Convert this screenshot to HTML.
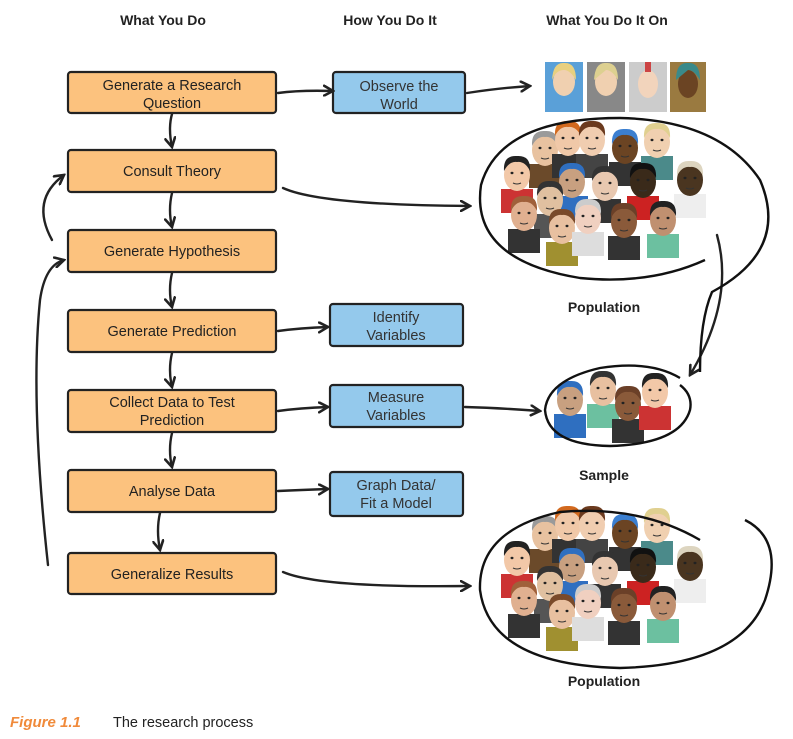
<!DOCTYPE html>
<html><head><meta charset="utf-8"><style>
html,body{margin:0;padding:0;background:#fff;width:793px;height:739px;overflow:hidden}
svg{display:block}
text{font-family:"Liberation Sans",sans-serif}
</style></head><body>
<svg width="793" height="739" viewBox="0 0 793 739" xmlns="http://www.w3.org/2000/svg">
<defs>
<marker id="ah" markerWidth="12" markerHeight="12" refX="10" refY="6" orient="auto" markerUnits="userSpaceOnUse">
<path d="M1,1 L10,6 L1,11" fill="none" stroke="#222" stroke-width="2.6" stroke-linecap="round"/>
</marker>
<g id="face">
<rect x="-16" y="14" width="32" height="24" fill="var(--s)"/>
<ellipse cx="0" cy="0" rx="13" ry="16" fill="var(--k)"/>
<path d="M-13,-4 Q-14,-20 0,-19 Q14,-20 13,-4 Q8,-14 0,-13 Q-8,-14 -13,-4Z" fill="var(--h)"/>
<ellipse cx="-5" cy="-2" rx="1.5" ry="1.2" fill="#222"/><ellipse cx="5" cy="-2" rx="1.5" ry="1.2" fill="#222"/>
<path d="M-4,8 Q0,10 4,8" stroke="#333" fill="none" stroke-width="1"/>
</g>
<g id="crowd">
<use href="#face" x="545" y="150" style="--k:#e8c2a0;--h:#9a9a9a;--s:#6b4a2a"/>
<use href="#face" x="568" y="140" style="--k:#f0c8a8;--h:#d2691e;--s:#333"/>
<use href="#face" x="592" y="140" style="--k:#f0cdb0;--h:#6b3a1e;--s:#444"/>
<use href="#face" x="625" y="148" style="--k:#6b4423;--h:#3b7fd0;--s:#333"/>
<use href="#face" x="657" y="142" style="--k:#f0d0b0;--h:#e0d090;--s:#4b8a8a"/>
<use href="#face" x="517" y="175" style="--k:#f2c8a8;--h:#222;--s:#c33"/>
<use href="#face" x="572" y="182" style="--k:#c8a080;--h:#2f6fc0;--s:#2f6fc0"/>
<use href="#face" x="605" y="185" style="--k:#e8c8b0;--h:#333;--s:#333"/>
<use href="#face" x="643" y="182" style="--k:#3a2a1a;--h:#111;--s:#c22"/>
<use href="#face" x="690" y="180" style="--k:#4a3520;--h:#ddd5c0;--s:#eee"/>
<use href="#face" x="550" y="200" style="--k:#e0c0a0;--h:#333;--s:#555"/>
<use href="#face" x="524" y="215" style="--k:#e0b090;--h:#a0603a;--s:#333"/>
<use href="#face" x="562" y="228" style="--k:#e8c0a0;--h:#7a4a2a;--s:#a09030"/>
<use href="#face" x="588" y="218" style="--k:#f0d0c0;--h:#ccc;--s:#ddd"/>
<use href="#face" x="624" y="222" style="--k:#8a5a3a;--h:#6b4028;--s:#333"/>
<use href="#face" x="663" y="220" style="--k:#c09070;--h:#222;--s:#6cc0a0"/>
</g>
</defs>

<text x="163" y="25" font-size="14" font-weight="bold" text-anchor="middle" fill="#222">What You Do</text>
<text x="390" y="25" font-size="14" font-weight="bold" text-anchor="middle" fill="#222">How You Do It</text>
<text x="607" y="25" font-size="14" font-weight="bold" text-anchor="middle" fill="#222">What You Do It On</text>

<g stroke="#222" stroke-width="2.2" fill="#fcc27e">
<rect x="68" y="72" width="208" height="41" rx="3"/>
<rect x="68" y="150" width="208" height="42" rx="3"/>
<rect x="68" y="230" width="208" height="42" rx="3"/>
<rect x="68" y="310" width="208" height="42" rx="3"/>
<rect x="68" y="390" width="208" height="42" rx="3"/>
<rect x="68" y="470" width="208" height="42" rx="3"/>
<rect x="68" y="553" width="208" height="41" rx="3"/>
</g>
<g stroke="#222" stroke-width="2.2" fill="#94c9ec">
<rect x="333" y="72" width="132" height="41" rx="3"/>
<rect x="330" y="304" width="133" height="42" rx="3"/>
<rect x="330" y="385" width="133" height="42" rx="3"/>
<rect x="330" y="472" width="133" height="44" rx="3"/>
</g>
<g font-size="14.5" fill="#222" text-anchor="middle">
<text x="172" y="90">Generate a Research</text><text x="172" y="108">Question</text>
<text x="172" y="176">Consult Theory</text>
<text x="172" y="256">Generate Hypothesis</text>
<text x="172" y="336">Generate Prediction</text>
<text x="172" y="407">Collect Data to Test</text><text x="172" y="425">Prediction</text>
<text x="172" y="496">Analyse Data</text>
<text x="172" y="579">Generalize Results</text>
</g>
<g font-size="14.5" fill="#333" text-anchor="middle">
<text x="399" y="91">Observe the</text><text x="399" y="109">World</text>
<text x="396" y="322">Identify</text><text x="396" y="340">Variables</text>
<text x="396" y="402">Measure</text><text x="396" y="420">Variables</text>
<text x="396" y="490">Graph Data/</text><text x="396" y="508">Fit a Model</text>
</g>

<g stroke="#222" stroke-width="2.4" fill="none" stroke-linecap="round" marker-end="url(#ah)">
<path d="M172,114 Q168,128 172,147"/>
<path d="M172,193 Q168,210 172,227"/>
<path d="M172,273 Q168,290 172,307"/>
<path d="M172,353 Q168,370 172,387"/>
<path d="M172,433 Q168,450 172,467"/>
<path d="M160,513 Q156,530 160,550"/>
<path d="M278,93 Q300,90 333,91"/>
<path d="M467,93 Q500,88 530,86"/>
<path d="M283,188 Q320,205 470,206"/>
<path d="M278,331 Q300,328 328,327"/>
<path d="M278,411 Q300,408 328,407"/>
<path d="M278,491 Q300,490 328,489"/>
<path d="M465,407 Q500,408 540,411"/>
<path d="M283,572 Q320,588 470,586"/>
<path d="M52,240 Q30,200 64,175"/>
<path d="M48,565 Q30,400 40,300 Q45,265 64,260"/>
<path d="M717,235 Q735,300 690,375"/>
</g>

<!-- top portraits -->
<g>
<rect x="545" y="62" width="38" height="50" fill="#5aa0d8"/><ellipse cx="564" cy="82" rx="11" ry="14" fill="#f0d0b0"/><path d="M552,80 Q553,62 564,63 Q576,62 576,80 Q570,70 564,70 Q556,70 552,80Z" fill="#e8d080"/>
<rect x="587" y="62" width="38" height="50" fill="#888"/><ellipse cx="606" cy="82" rx="11" ry="14" fill="#f0d0b0"/><path d="M594,80 Q595,62 606,63 Q618,62 618,80 Q612,70 606,70Z" fill="#ddd090"/>
<rect x="629" y="62" width="38" height="50" fill="#ccc"/><ellipse cx="648" cy="84" rx="10" ry="14" fill="#f2d4bc"/><rect x="645" y="62" width="6" height="10" fill="#c44"/>
<rect x="670" y="62" width="36" height="50" fill="#9a7a40"/><ellipse cx="688" cy="84" rx="10" ry="14" fill="#6b4423"/><path d="M676,80 Q676,62 688,63 Q700,62 700,80 Q694,70 688,70Z" fill="#3a8a8a"/>
</g>

<use href="#crowd"/>
<path d="M700,372 Q700,320 712,292 Q790,250 760,180 Q720,120 620,118 Q500,118 481,185 Q470,260 580,278 Q650,285 705,260" fill="none" stroke="#111" stroke-width="2.4"/>
<text x="604" y="312" font-size="14" font-weight="bold" text-anchor="middle" fill="#222">Population</text>

<use href="#crowd" transform="translate(0,385)"/>
<path d="M700,540 Q640,505 560,512 Q478,530 480,590 Q490,665 620,668 Q740,665 765,600 Q785,540 745,520" fill="none" stroke="#111" stroke-width="2.4"/>
<text x="604" y="686" font-size="14" font-weight="bold" text-anchor="middle" fill="#222">Population</text>

<!-- sample -->
<use href="#face" x="570" y="400" style="--k:#c8a080;--h:#2f6fc0;--s:#2f6fc0"/>
<use href="#face" x="603" y="390" style="--k:#e8c0a0;--h:#333;--s:#6cc0a0"/>
<use href="#face" x="628" y="405" style="--k:#8a5a3a;--h:#6b4028;--s:#333"/>
<use href="#face" x="655" y="392" style="--k:#f2c8a8;--h:#222;--s:#c33"/>
<path d="M680,378 Q650,360 600,368 Q548,380 545,410 Q548,445 610,446 Q680,444 690,410 Q693,395 680,385" fill="none" stroke="#111" stroke-width="2.4"/>
<text x="604" y="480" font-size="14" font-weight="bold" text-anchor="middle" fill="#222">Sample</text>

<text x="10" y="727" font-size="15" font-weight="bold" font-style="italic" fill="#f08a3a">Figure 1.1</text>
<text x="113" y="727" font-size="14.5" fill="#222">The research process</text>
</svg>
</body></html>
